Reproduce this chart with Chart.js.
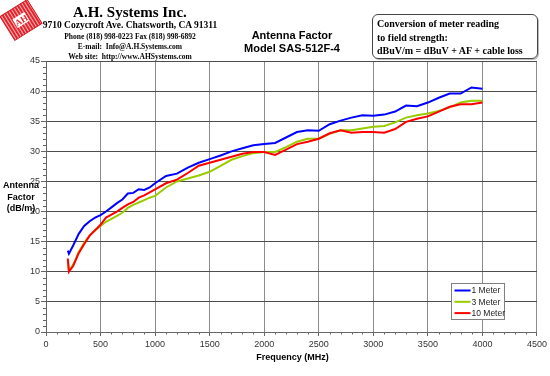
<!DOCTYPE html>
<html><head><meta charset="utf-8">
<script src="https://cdn.jsdelivr.net/npm/chart.js@4/dist/chart.umd.min.js"></script>
<style>
html,body{margin:0;padding:0;background:#fff;}
#wrap{position:relative;width:550px;height:376px;overflow:hidden;background:#fff;}
#c{position:absolute;left:0;top:0;}
.t{position:absolute;font-family:"Liberation Serif","Times New Roman",serif;font-weight:bold;color:#000;white-space:nowrap;text-align:center;line-height:1;}
.h{position:absolute;font-family:"Liberation Sans",Arial,sans-serif;font-weight:bold;color:#000;white-space:nowrap;text-align:center;line-height:1;font-size:11px;}
#box{position:absolute;left:372px;top:14px;width:164px;height:43px;border:1px solid #444;border-radius:6px;box-shadow:1px 1px 0 #bbb;}
#box div{position:absolute;left:4px;font-family:"Liberation Serif","Times New Roman",serif;font-weight:bold;font-size:10px;line-height:1;white-space:nowrap;}
#logo{position:absolute;left:0;top:0;}
</style></head><body>
<div id="wrap">
<canvas id="c" width="550" height="376"></canvas>
<svg id="logo" width="46" height="42" viewBox="0 0 46 42">
 <defs><pattern id="hp" width="3" height="3" patternUnits="userSpaceOnUse"><rect width="3" height="3" fill="#e3242b"/><rect width="1" height="3" fill="#f7b5b8"/></pattern></defs>
 <g transform="translate(21,20) rotate(-32)">
  <rect x="-16" y="-14" width="32" height="28" fill="url(#hp)" stroke="#d01820" stroke-width="1"/>
  <rect x="-7" y="-5" width="14" height="10" fill="#fff"/>
  <text x="0" y="3.5" font-family="Liberation Serif" font-weight="bold" font-size="9" fill="#e3242b" text-anchor="middle">AH</text>
 </g>
</svg>
<div class="t" style="left:30px;width:200px;top:5px;font-size:15px">A.H. Systems Inc.</div>
<div class="t" style="left:30px;width:200px;top:21px;font-size:9.5px">9710 Cozycroft Ave. Chatsworth, CA 91311</div>
<div class="t" style="left:30px;width:200px;top:33px;font-size:7.5px">Phone (818) 998-0223 Fax (818) 998-6892</div>
<div class="t" style="left:30px;width:200px;top:43px;font-size:7.5px">E-mail:&nbsp; Info@A.H.Systems.com</div>
<div class="t" style="left:30px;width:200px;top:53px;font-size:7.5px">Web site:&nbsp; http://www.AHSystems.com</div>
<div class="h" style="left:192px;width:200px;top:30px">Antenna Factor</div>
<div class="h" style="left:192px;width:200px;top:43px">Model SAS-512F-4</div>
<div id="box">
 <div style="top:4px">Conversion of meter reading</div>
 <div style="top:18px">to field strength:</div>
 <div style="top:31px">dBuV/m = dBuV + AF + cable loss</div>
</div>
</div>
<script>
const freqs = [200,210,250,300,350,400,450,500,550,600,650,700,750,800,850,900,950,1000,
  1100,1200,1300,1400,1500,1600,1700,1800,1900,2000,2100,2200,2300,2400,2500,2600,2700,2800,
  2900,3000,3100,3200,3300,3400,3500,3600,3700,3800,3900,4000];
const oneMeter = [13.5,13.0,14.4,16.3,17.6,18.4,19.0,19.4,20.0,20.7,21.4,22.0,23.0,23.1,23.7,23.6,24.0,24.7,
  25.9,26.3,27.3,28.1,28.7,29.3,30.0,30.5,31.0,31.2,31.4,32.3,33.2,33.5,33.4,34.5,35.1,35.6,
  36.0,35.9,36.1,36.6,37.6,37.5,38.1,38.9,39.6,39.6,40.6,40.4];
const threeMeter = [12.0,10.2,11.2,13.3,14.8,16.0,16.9,17.6,18.3,18.8,19.3,19.8,20.6,21.1,21.5,21.9,22.3,22.6,
  24.0,25.0,25.5,26.0,26.6,27.6,28.6,29.2,29.7,29.9,29.9,30.7,31.6,32.1,32.1,32.9,33.5,33.5,
  33.8,34.1,34.2,34.8,35.6,36.0,36.3,36.7,37.3,38.1,38.4,38.4];
const tenMeter = [12.2,10.0,11.0,13.1,14.6,16.0,16.9,17.8,19.0,19.5,20.0,20.6,21.2,21.6,22.3,22.7,23.2,23.7,
  24.7,25.3,26.4,27.6,28.1,28.6,29.1,29.6,29.9,29.9,29.4,30.3,31.2,31.6,32.1,33.0,33.5,33.1,
  33.2,33.2,33.1,33.7,34.9,35.4,35.8,36.6,37.4,37.8,37.8,38.1];
const seriesLabels = ['1 Meter','3 Meter','10 Meter'];
const seriesColors = ['#0000ff','#99cc00','#ff0000'];
const xTicks = [0,500,1000,1500,2000,2500,3000,3500,4000,4500];
const yTicks = [0,5,10,15,20,25,30,35,40,45];
const xTitle = 'Frequency (MHz)';
const yTitle = ['Antenna','Factor','(dB/m)'];

const seriesValues = [oneMeter, threeMeter, tenMeter];
const datasets = seriesValues.map((vals,i)=>({
  label: seriesLabels[i],
  data: freqs.map((f,j)=>({x:f,y:vals[j]})),
  borderColor: seriesColors[i], backgroundColor: seriesColors[i],
  borderWidth: 2, pointRadius: 0, tension: 0, fill: false,
  order: 3 - i
}));

const extras = {
  id:'extras',
  afterDraw(chart){
    const c = chart.ctx, xs = chart.scales.x, ys = chart.scales.y, a = chart.chartArea;
    c.save();
    c.strokeStyle = '#666'; c.lineWidth = 1;
    c.beginPath();
    for (let v=0; v<=4500; v+=100){ if (v%500===0) continue; const px=Math.round(xs.getPixelForValue(v))+0.5; c.moveTo(px,a.bottom); c.lineTo(px,a.bottom+2.5); }
    for (let v=0; v<=45; v+=1){ if (v%5===0) continue; const py=Math.round(ys.getPixelForValue(v))+0.5; c.moveTo(a.left,py); c.lineTo(a.left-3,py); }
    c.stroke();
    c.fillStyle = '#000'; c.font = 'bold 9px "Liberation Sans", Arial, sans-serif';
    c.textAlign = 'center'; c.textBaseline = 'middle';
    c.fillText(xTitle, (a.left+a.right)/2 + 1, 358);
    yTitle.forEach((s,i)=>c.fillText(s, 21, 186 + i*11.5));
    const bx=451.5, by=283.5, bw=53, bh=36;
    c.fillStyle='#fff'; c.fillRect(bx,by,bw,bh);
    c.strokeStyle='#808080'; c.strokeRect(bx,by,bw,bh);
    c.font = '8.5px "Liberation Sans", Arial, sans-serif'; c.textAlign='left';
    seriesLabels.forEach((lab,i)=>{
      const y = by + 7 + i*11.3;
      c.strokeStyle = seriesColors[i]; c.lineWidth = 2;
      c.beginPath(); c.moveTo(bx+3,y); c.lineTo(bx+19,y); c.stroke();
      c.fillStyle = '#222'; c.fillText(lab, bx+20, y+0.5);
    });
    c.restore();
  }
};

new Chart(document.getElementById('c').getContext('2d'), {
  type:'line',
  data:{datasets},
  options:{
    responsive:false, animation:false, events:[],
    layout:{padding:{left:0,right:13,top:61,bottom:0}},
    plugins:{legend:{display:false}, tooltip:{enabled:false}, title:{display:false}},
    scales:{
      x:{type:'linear', min:0, max:4500,
         afterBuildTicks:s=>{s.ticks = xTicks.map(v=>({value:v}));},
         grid:{color:'#8c8c8c', lineWidth:1, tickLength:4, tickColor:'#666'},
         border:{color:'#666'},
         ticks:{font:{family:'"Liberation Sans", Arial, sans-serif', size:9}, color:'#333', maxRotation:0, padding:3,
                callback:v=>String(v)},
         afterFit:s=>{s.height = 44;}},
      y:{type:'linear', min:0, max:45,
         afterBuildTicks:s=>{s.ticks = yTicks.map(v=>({value:v}));},
         grid:{color:'#4d4d4d', lineWidth:1, tickLength:5, tickColor:'#666'},
         border:{color:'#666'},
         ticks:{font:{family:'"Liberation Sans", Arial, sans-serif', size:9}, color:'#333', padding:1,
                callback:v=>String(v)},
         afterFit:s=>{s.width = 46;}}
    }
  },
  plugins:[extras]
});
</script>
</body></html>
